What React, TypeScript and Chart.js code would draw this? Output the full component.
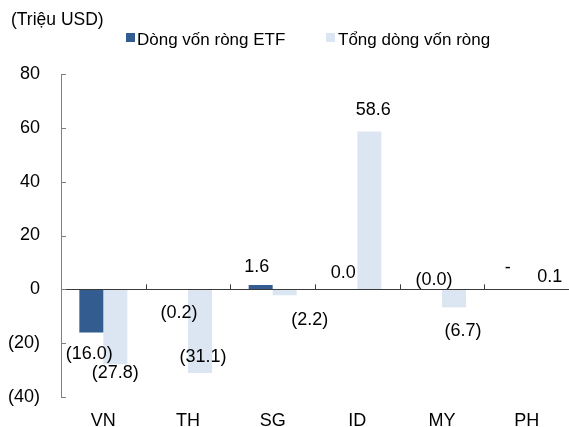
import React, { useEffect, useRef } from "react";
import { Chart, registerables } from "chart.js";

Chart.register(...registerables);

const categories = ["VN", "TH", "SG", "ID", "MY", "PH"];
const etfFlows: (number | null)[] = [-16.0, -0.2, 1.6, 0.0, -0.01, null];
const totalFlows: (number | null)[] = [-27.8, -31.1, -2.2, 58.6, -6.7, 0.1];
const seriesNames = ["Dòng vốn ròng ETF", "Tổng dòng vốn ròng"];
const unitLabel = "(Triệu USD)";
const yMin = -40;
const yMax = 80;
const yStep = 20;

const DARK = "#335D91";
const LIGHT = "#DCE6F2";
const FONT = "'Liberation Sans', Arial, sans-serif";

// label placement (dx from bar centre, dy from bar end), one list per series
const labelOffsets: [number, number][][] = [
  [[-2, 22], [3, 23], [-4, -18], [-2, -16], [4, -9], [-7, -21]],
  [[0, 9], [3, -16], [25, 25], [4, -22], [9, 24], [11, -12]],
];

function fmt(v: number | null): string {
  if (v === null || v === undefined) return "-";
  const s = Math.abs(v).toFixed(1);
  return v < 0 ? `(${s})` : s;
}

const decorPlugin = {
  id: "decor",
  afterDatasetsDraw(chart: any) {
    const { ctx, chartArea } = chart;
    const x = chart.scales.x;
    const y = chart.scales.y;
    const zeroY = y.getPixelForValue(0);
    ctx.save();
    // zero line
    ctx.strokeStyle = "#3a3a3a";
    ctx.lineWidth = 1;
    ctx.beginPath();
    ctx.moveTo(chartArea.left, Math.round(zeroY) + 0.5);
    ctx.lineTo(chartArea.right, Math.round(zeroY) + 0.5);
    ctx.stroke();
    // category boundary ticks
    const n = categories.length;
    const w = (chartArea.right - chartArea.left) / n;
    for (let i = 1; i <= n; i++) {
      const px = Math.round(x.getPixelForValue(i - 1) + w / 2) + 0.5;
      ctx.beginPath();
      ctx.moveTo(px, zeroY);
      ctx.lineTo(px, zeroY - 5);
      ctx.stroke();
    }
    // y ticks (inward)
    ctx.strokeStyle = "#7f7f7f";
    for (let v = yMin; v <= yMax; v += yStep) {
      const py = Math.round(y.getPixelForValue(v)) + 0.5;
      ctx.beginPath();
      ctx.moveTo(chartArea.left, py);
      ctx.lineTo(chartArea.left + 5, py);
      ctx.stroke();
    }
    // data labels
    ctx.fillStyle = "#000";
    ctx.font = `18px ${FONT}`;
    ctx.textAlign = "center";
    ctx.textBaseline = "middle";
    chart.data.datasets.forEach((ds: any, di: number) => {
      const meta = chart.getDatasetMeta(di);
      ds.data.forEach((v: number | null, j: number) => {
        const bar = meta.data[j];
        const endY = y.getPixelForValue(v ?? 0);
        const [dx, dy] = labelOffsets[di][j];
        ctx.fillText(fmt(v), bar.x + dx, endY + dy);
      });
    });
    // unit label
    ctx.textAlign = "left";
    ctx.font = `17.5px ${FONT}`;
    ctx.fillText(unitLabel, 11, 20);
    ctx.font = `17px ${FONT}`;
    // legend
    const items = [
      { c: DARK, sx: 126, tx: 137 },
      { c: LIGHT, sx: 326, tx: 338 },
    ];
    items.forEach((it, i) => {
      ctx.fillStyle = it.c;
      ctx.fillRect(it.sx, 33, 9, 9);
      ctx.fillStyle = "#000";
      ctx.fillText(seriesNames[i], it.tx, 40);
    });
    ctx.restore();
  },
};

export default function App() {
  const ref = useRef<HTMLCanvasElement>(null);
  useEffect(() => {
    document.body.style.margin = "0";
    const chart = new Chart(ref.current!, {
      type: "bar",
      data: {
        labels: categories,
        datasets: [
          { label: seriesNames[0], data: etfFlows, backgroundColor: DARK, categoryPercentage: 0.567, barPercentage: 1 },
          { label: seriesNames[1], data: totalFlows, backgroundColor: LIGHT, categoryPercentage: 0.567, barPercentage: 1 },
        ],
      },
      options: {
        animation: false,
        responsive: false,
        devicePixelRatio: 1,
        layout: { padding: { top: 74, left: 0, right: 0, bottom: 0 } },
        plugins: { legend: { display: false }, tooltip: { enabled: false }, title: { display: false } },
        scales: {
          x: {
            grid: { display: false },
            border: { display: false },
            ticks: { color: "#000", font: { family: FONT, size: 18 }, padding: 5 },
            afterFit: (s: any) => { s.height = 30; s.paddingLeft = 0; s.paddingRight = 0; },
          },
          y: {
            min: yMin,
            max: yMax,
            ticks: {
              stepSize: yStep,
              color: "#000",
              font: { family: FONT, size: 18 },
              padding: 21,
              callback: (v: any) => (v < 0 ? `(${-v})` : `${v}`),
            },
            grid: { display: false, drawTicks: false },
            border: { display: true, color: "#7f7f7f" },
            afterFit: (s: any) => { s.width = 61; s.paddingTop = 0; s.paddingBottom = 0; },
          },
        },
      },
      plugins: [decorPlugin],
    });
    return () => chart.destroy();
  }, []);
  return (
    <div style={{ width: 569, height: 427, overflow: "hidden" }}>
      <canvas ref={ref} width={569} height={427} style={{ display: "block" }} />
    </div>
  );
}
